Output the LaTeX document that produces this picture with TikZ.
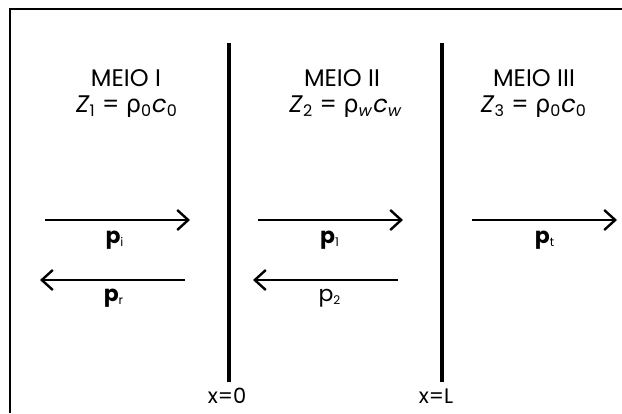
\documentclass[tikz,border=0pt]{standalone}
\usepackage{fontspec}
\setmainfont{Poppins}
\newfontfamily\grk{DejaVu Sans}
\usetikzlibrary{arrows.meta,positioning}
\tikzset{
  wave/.style={line width=1.2pt,-{Straight Barb[length=5.5pt,width=10pt,line width=1.2pt]}},
  wall/.style={line width=2.2pt},
  meio/.style={font=\fontsize{12}{14}\selectfont,inner sep=1pt},
  plab/.style={font=\fontsize{11}{12}\selectfont\bfseries,inner sep=1pt},
  xlab/.style={font=\fontsize{10.5}{12}\selectfont,inner sep=1pt},
}
\newcommand{\rh}{{\grk ρ}}
\newcommand{\sbs}[1]{\textsubscript{#1}}
\newcommand{\psb}[1]{\textsubscript{\mdseries\fontsize{6}{7}\selectfont #1}}
\begin{document}
\begin{tikzpicture}[x=0.5pt,y=-0.5pt]
\useasboundingbox (0,0) rectangle (622,413);
% moldura
\draw[line width=1pt] (10,413) -- (10,8.5) -- (622,8.5);
% interfaces
\coordinate (w1t) at (229,43); \coordinate (w1b) at (229,382);
\coordinate (w2t) at (442,43); \coordinate (w2b) at (442,382);
\draw[wall] (w1t) -- (w1b);
\draw[wall] (w2t) -- (w2b);
\node[xlab,below=2pt of w1b,xshift=-1pt] (x0) {x=0};
\node[xlab,below=2pt of w2b,xshift=-3pt] (xL) {x=L};
% meios
\node[meio] (m1) at (126,78) {MEIO I};
\node[meio] (m2) at (342,78) {MEIO II};
\node[meio] (m3) at (534,78) {MEIO III};
\node[meio] (z1) at (127,107) {\textit{Z}\sbs{1} = \rh\sbs{0}\textit{c}\sbs{0}};
\node[meio] (z2) at (346,107) {\textit{Z}\sbs{2} = \rh\sbs{\textit{w}}\textit{c}\sbs{\textit{w}}};
\node[meio] (z3) at (534,107) {\textit{Z}\sbs{3} = \rh\sbs{0}\textit{c}\sbs{0}};
% ondas
\coordinate (a1) at (45,220);  \coordinate (b1) at (190,220);
\coordinate (a2) at (258,220); \coordinate (b2) at (403,220);
\coordinate (a3) at (472,220); \coordinate (b3) at (617,220);
\coordinate (c1) at (185,280); \coordinate (d1) at (40,280);
\coordinate (c2) at (398,280); \coordinate (d2) at (253,280);
\draw[wave] (a1) -- (b1);
\draw[wave] (a2) -- (b2);
\draw[wave] (a3) -- (b3);
\draw[wave] (c1) -- (d1);
\draw[wave] (c2) -- (d2);
\node[plab] (pi) at (115,240) {p\psb{i}};
\node[plab] (p1) at (330,240) {p\psb{1}};
\node[plab] (pt) at (545,240) {p\psb{t}};
\node[plab] (pr) at (114,298) {p\psb{r}};
\node[plab,font=\fontsize{11}{12}\selectfont] (p2) at (330,298) {p\psb{2}};
\end{tikzpicture}
\end{document}
